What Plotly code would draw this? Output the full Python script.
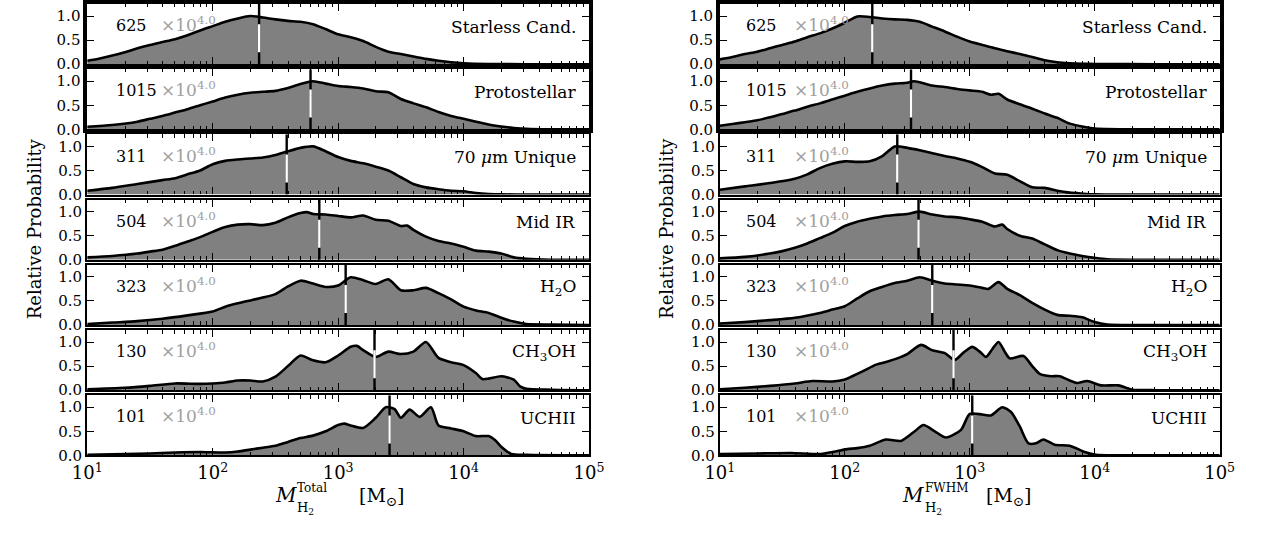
import numpy as np
import plotly.graph_objects as go
from plotly.subplots import make_subplots

# ---------------- data (log10 mass grid, relative probability) ----------------
labels = ["Starless Cand.", "Protostellar", "70 <i>μ</i>m Unique", "Mid IR",
          "H<sub>2</sub>O", "CH<sub>3</sub>OH", "UCHII"]
counts = [625, 1015, 311, 504, 323, 130, 101]

# Left column: M_H2 Total
tot_starless_logm = [1.0,1.1,1.2,1.3,1.4,1.5,1.6,1.7,1.8,1.9,2.0,2.1,2.2,2.3,2.4,2.5,2.6,2.7,2.8,2.9,3.0,3.1,3.2,3.3,3.4,3.5,3.6,3.7,3.8,3.9,4.0,4.2,4.5,5.0]
tot_starless_p    = [0.07,0.12,0.18,0.25,0.33,0.40,0.46,0.52,0.60,0.70,0.79,0.88,0.95,1.0,0.97,0.93,0.90,0.88,0.83,0.73,0.62,0.56,0.48,0.36,0.26,0.21,0.16,0.11,0.07,0.04,0.02,0.005,0,0]

tot_proto_logm = [1.0,1.2,1.4,1.5,1.6,1.7,1.8,1.9,2.0,2.1,2.2,2.3,2.4,2.5,2.6,2.7,2.8,2.9,3.0,3.1,3.2,3.3,3.4,3.5,3.6,3.7,3.8,3.9,4.0,4.1,4.2,4.3,4.4,4.5,4.7,5.0]
tot_proto_p    = [0.055,0.09,0.16,0.22,0.28,0.35,0.42,0.50,0.58,0.66,0.72,0.76,0.78,0.80,0.86,0.94,1.0,0.95,0.90,0.88,0.85,0.79,0.77,0.63,0.54,0.46,0.36,0.28,0.22,0.16,0.10,0.06,0.03,0.01,0,0]

tot_70um_logm = [1.0,1.2,1.4,1.6,1.7,1.8,1.9,2.0,2.1,2.2,2.3,2.4,2.5,2.6,2.7,2.8,2.9,3.0,3.1,3.2,3.3,3.4,3.5,3.6,3.7,3.8,3.9,4.0,4.1,4.2,4.3,4.5,5.0]
tot_70um_p    = [0.08,0.14,0.22,0.30,0.34,0.42,0.50,0.63,0.70,0.73,0.75,0.77,0.82,0.90,0.97,1.0,0.90,0.78,0.70,0.65,0.58,0.50,0.36,0.22,0.15,0.11,0.08,0.07,0.03,0.01,0.005,0,0]

tot_midir_logm = [1.0,1.2,1.4,1.5,1.6,1.7,1.8,1.9,2.0,2.1,2.2,2.3,2.4,2.5,2.6,2.7,2.75,2.8,2.9,3.0,3.1,3.2,3.3,3.4,3.5,3.55,3.6,3.7,3.8,3.9,4.0,4.1,4.2,4.3,4.4,4.5,4.7,5.0]
tot_midir_p    = [0.05,0.08,0.13,0.17,0.21,0.29,0.38,0.47,0.58,0.68,0.73,0.74,0.72,0.77,0.88,0.97,0.99,0.95,0.94,0.91,0.88,0.92,0.83,0.81,0.70,0.71,0.62,0.48,0.39,0.34,0.27,0.19,0.17,0.13,0.05,0.02,0,0]

tot_h2o_logm = [1.0,1.2,1.4,1.6,1.8,2.0,2.1,2.2,2.3,2.4,2.5,2.6,2.7,2.8,2.9,3.0,3.1,3.2,3.3,3.4,3.5,3.6,3.7,3.8,3.9,4.0,4.1,4.2,4.3,4.4,4.5,4.7,5.0]
tot_h2o_p    = [0.02,0.05,0.08,0.13,0.20,0.28,0.38,0.45,0.51,0.57,0.64,0.80,0.92,0.86,0.79,0.82,0.99,0.93,0.85,0.95,0.72,0.72,0.77,0.66,0.53,0.38,0.30,0.25,0.15,0.07,0.02,0.01,0]

tot_ch3oh_logm = [1.0,1.3,1.5,1.7,1.9,2.0,2.1,2.2,2.3,2.4,2.5,2.6,2.7,2.8,2.9,3.0,3.1,3.15,3.2,3.3,3.4,3.5,3.6,3.7,3.8,3.9,4.0,4.1,4.15,4.2,4.3,4.4,4.45,4.5,4.7,5.0]
tot_ch3oh_p    = [0.02,0.05,0.09,0.14,0.13,0.14,0.16,0.20,0.20,0.18,0.28,0.50,0.72,0.62,0.58,0.72,0.90,0.92,0.83,0.69,0.80,0.75,0.80,1.0,0.67,0.58,0.52,0.35,0.23,0.24,0.29,0.22,0.08,0.03,0.01,0]

tot_uchii_logm = [1.0,1.5,1.7,1.9,2.1,2.2,2.3,2.4,2.5,2.6,2.7,2.8,2.9,3.0,3.05,3.1,3.2,3.3,3.38,3.45,3.5,3.57,3.65,3.74,3.8,3.9,4.0,4.1,4.2,4.25,4.3,4.38,4.5,5.0]
tot_uchii_p    = [0.01,0.04,0.06,0.07,0.06,0.08,0.12,0.16,0.20,0.28,0.36,0.41,0.50,0.63,0.66,0.62,0.57,0.78,1.0,0.96,0.78,0.95,0.80,1.0,0.62,0.56,0.50,0.40,0.40,0.32,0.18,0.03,0.01,0]

# Right column: M_H2 FWHM
fwhm_starless_logm = [1.0,1.1,1.2,1.3,1.4,1.5,1.6,1.7,1.8,1.9,2.0,2.1,2.2,2.3,2.4,2.5,2.6,2.7,2.8,2.9,3.0,3.1,3.2,3.3,3.4,3.5,3.6,3.7,3.8,3.9,4.0,4.5,5.0]
fwhm_starless_p    = [0.10,0.15,0.21,0.26,0.33,0.40,0.47,0.56,0.64,0.74,0.86,0.99,0.98,0.95,0.93,0.92,0.88,0.78,0.68,0.57,0.47,0.40,0.33,0.27,0.21,0.15,0.08,0.04,0.02,0.01,0.005,0,0]

fwhm_proto_logm = [1.0,1.1,1.2,1.3,1.4,1.5,1.6,1.7,1.8,1.9,2.0,2.1,2.2,2.3,2.4,2.5,2.55,2.6,2.7,2.8,2.9,3.0,3.1,3.17,3.23,3.3,3.4,3.5,3.6,3.7,3.8,3.9,4.0,4.5,5.0]
fwhm_proto_p    = [0.075,0.11,0.15,0.19,0.25,0.32,0.39,0.47,0.54,0.62,0.70,0.78,0.85,0.91,0.95,0.97,1.0,0.98,0.91,0.88,0.84,0.81,0.78,0.72,0.74,0.62,0.52,0.43,0.33,0.24,0.12,0.06,0.02,0,0]

fwhm_70um_logm = [1.0,1.2,1.4,1.6,1.7,1.8,1.9,2.0,2.1,2.2,2.3,2.4,2.5,2.6,2.7,2.8,2.9,3.0,3.1,3.2,3.3,3.4,3.5,3.6,3.7,3.8,3.9,4.0,4.5,5.0]
fwhm_70um_p    = [0.10,0.17,0.24,0.33,0.42,0.55,0.64,0.69,0.68,0.69,0.80,1.0,0.97,0.92,0.86,0.80,0.75,0.68,0.57,0.44,0.41,0.28,0.15,0.14,0.08,0.04,0.02,0.005,0,0]

fwhm_midir_logm = [1.0,1.2,1.4,1.5,1.6,1.7,1.8,1.9,2.0,2.1,2.2,2.3,2.4,2.5,2.6,2.7,2.8,2.9,3.0,3.1,3.2,3.26,3.3,3.4,3.5,3.6,3.7,3.8,3.9,4.0,4.1,4.5,5.0]
fwhm_midir_p    = [0.03,0.06,0.13,0.18,0.25,0.34,0.45,0.56,0.70,0.79,0.85,0.90,0.93,0.95,1.0,0.94,0.90,0.88,0.84,0.79,0.69,0.73,0.64,0.50,0.44,0.32,0.20,0.13,0.08,0.04,0.01,0,0]

fwhm_h2o_logm = [1.0,1.2,1.4,1.6,1.8,1.9,2.0,2.1,2.2,2.3,2.4,2.5,2.6,2.7,2.8,2.9,3.0,3.1,3.15,3.23,3.3,3.4,3.5,3.6,3.7,3.8,3.9,4.0,4.1,4.5,5.0]
fwhm_h2o_p    = [0.03,0.06,0.10,0.15,0.25,0.32,0.39,0.55,0.70,0.79,0.87,0.92,0.99,0.92,0.86,0.84,0.82,0.77,0.75,0.89,0.75,0.62,0.46,0.32,0.21,0.19,0.16,0.06,0.01,0,0]

fwhm_ch3oh_logm = [1.0,1.2,1.4,1.6,1.74,1.9,2.0,2.06,2.15,2.25,2.35,2.42,2.5,2.61,2.7,2.8,2.88,2.95,3.02,3.08,3.13,3.18,3.23,3.28,3.32,3.43,3.5,3.56,3.65,3.72,3.8,3.86,3.94,4.05,4.19,4.25,4.3,4.5,5.0]
fwhm_ch3oh_p    = [0.02,0.05,0.09,0.14,0.19,0.18,0.22,0.29,0.40,0.53,0.60,0.66,0.75,0.94,0.83,0.77,0.63,0.78,0.90,0.80,0.69,0.85,1.0,0.80,0.66,0.71,0.50,0.34,0.29,0.29,0.20,0.15,0.19,0.10,0.10,0.05,0.01,0,0]

fwhm_uchii_logm = [1.0,1.3,1.57,1.81,1.9,2.02,2.1,2.2,2.33,2.45,2.55,2.63,2.72,2.81,2.93,3.0,3.1,3.17,3.26,3.33,3.4,3.47,3.53,3.59,3.68,3.8,3.92,4.01,4.2,5.0]
fwhm_uchii_p    = [0.03,0.04,0.05,0.03,0.07,0.13,0.15,0.20,0.33,0.30,0.48,0.63,0.50,0.37,0.53,0.86,0.85,0.83,1.0,0.90,0.60,0.25,0.25,0.33,0.22,0.20,0.07,0.01,0,0]

tot_medians = [2.37, 2.78, 2.59, 2.85, 3.06, 3.29, 3.41]
fwhm_medians = [2.22, 2.53, 2.42, 2.59, 2.70, 2.87, 3.02]

tot_series = [(tot_starless_logm, tot_starless_p), (tot_proto_logm, tot_proto_p),
              (tot_70um_logm, tot_70um_p), (tot_midir_logm, tot_midir_p),
              (tot_h2o_logm, tot_h2o_p), (tot_ch3oh_logm, tot_ch3oh_p),
              (tot_uchii_logm, tot_uchii_p)]
fwhm_series = [(fwhm_starless_logm, fwhm_starless_p), (fwhm_proto_logm, fwhm_proto_p),
               (fwhm_70um_logm, fwhm_70um_p), (fwhm_midir_logm, fwhm_midir_p),
               (fwhm_h2o_logm, fwhm_h2o_p), (fwhm_ch3oh_logm, fwhm_ch3oh_p),
               (fwhm_uchii_logm, fwhm_uchii_p)]

x_tickvals = [1e1, 1e2, 1e3, 1e4, 1e5]
x_ticktext = ["10<sup>1</sup>", "10<sup>2</sup>", "10<sup>3</sup>", "10<sup>4</sup>", "10<sup>5</sup>"]
y_tickvals = [0.0, 0.5, 1.0]
y_ticktext = ["0.0", "0.5", "1.0"]

# ---------------- layout geometry ----------------
W, H = 1262, 533
FONT = "DejaVu Serif"
COLS = [(74, 588), (722, 1234)]
TOP0, PITCH, PH = 1.0, 66.7, 61.6
YMAX = 1.25
minor_vals = [m * 10 ** e for e in range(1, 5) for m in range(2, 10)]

fig = make_subplots(rows=7, cols=2)

for c, (series, medians) in enumerate([(tot_series, tot_medians), (fwhm_series, fwhm_medians)]):
    x0, x1 = COLS[c]
    for r in range(7):
        top = TOP0 + r * PITCH
        bot = top + PH
        lw = 3.6 if r < 2 else 2.2
        logm, p = series[r]
        xs = [10 ** v for v in logm]
        fig.add_trace(go.Scatter(x=xs, y=p, mode="lines",
                                 line=dict(color="black", width=2.6, shape="spline", smoothing=0.7),
                                 fill="tozeroy", fillcolor="#808080",
                                 showlegend=False, hoverinfo="skip"),
                      row=r + 1, col=c + 1)
        med = 10 ** medians[r]
        fig.add_trace(go.Scatter(x=[med, med], y=[0, YMAX], mode="lines",
                                 line=dict(color="black", width=2.4),
                                 showlegend=False, hoverinfo="skip"),
                      row=r + 1, col=c + 1)
        fig.add_trace(go.Scatter(x=[med, med], y=[0, YMAX], mode="lines",
                                 line=dict(color="white", width=2.4, dash="0px,12px,28px,600px"),
                                 showlegend=False, hoverinfo="skip"),
                      row=r + 1, col=c + 1)

        fig.update_xaxes(row=r + 1, col=c + 1, type="log", range=[1, 5],
                         domain=[x0 / W, x1 / W],
                         showline=True, linewidth=lw, linecolor="black", mirror="ticks",
                         ticks="inside", ticklen=7, tickwidth=1.3, tickcolor="black",
                         tickmode="array", tickvals=x_tickvals, ticktext=x_ticktext,
                         showticklabels=(r == 6), tickfont=dict(family=FONT, size=18, color="black"),
                         showgrid=False, zeroline=False,
                         minor=dict(ticks="inside", ticklen=3.5, tickwidth=1, tickcolor="black",
                                    tickmode="array", tickvals=minor_vals, showgrid=False))
        fig.update_yaxes(row=r + 1, col=c + 1, range=[0, YMAX],
                         domain=[1 - bot / H, 1 - top / H],
                         showline=True, linewidth=lw, linecolor="black", mirror="ticks",
                         ticks="inside", ticklen=7, tickwidth=1.3, tickcolor="black",
                         tickmode="array", tickvals=y_tickvals, ticktext=y_ticktext,
                         tickfont=dict(family=FONT, size=15, color="black"),
                         showgrid=False, zeroline=False)

        n = r * 2 + c + 1
        xr = "x domain" if n == 1 else f"x{n} domain"
        yr = "y" if n == 1 else f"y{n}"
        cx = 0.0525 if c == 0 else 0.049
        fig.add_annotation(xref=xr, yref=yr, x=cx, y=0.56, xanchor="left", yanchor="bottom",
                           text=str(counts[r]), showarrow=False,
                           font=dict(family=FONT, size=16, color="black"))
        fig.add_annotation(xref=xr, yref=yr, x=0.144, y=0.56, xanchor="left", yanchor="bottom",
                           text="×10<sup>4.0</sup>", showarrow=False,
                           font=dict(family=FONT, size=17, color="#a0a0a0"))
        fig.add_annotation(xref=xr, yref=yr, x=0.978, y=0.78, xanchor="right", yanchor="middle",
                           text=labels[r], showarrow=False,
                           font=dict(family=FONT, size=17, color="black"))

# y titles
for xp in (20, 668):
    fig.add_annotation(xref="paper", yref="paper", x=xp / W, y=1 - 231 / H,
                       xanchor="center", yanchor="middle", textangle=-90,
                       text="Relative Probability", showarrow=False,
                       font=dict(family=FONT, size=18, color="black"))

# x titles (M with stacked super/subscripts)
for (mx, sx, bx, sup) in [(278, 287, 350, "Total"), (920, 930, 993, "FWHM")]:
    fig.add_annotation(xref="paper", yref="paper", x=mx / W, y=1 - 503 / H,
                       xanchor="center", yanchor="middle", text="<i>M</i>", showarrow=False,
                       font=dict(family=FONT, size=20, color="black"))
    fig.add_annotation(xref="paper", yref="paper", x=sx / W, y=1 - 496 / H,
                       xanchor="left", yanchor="middle", text=sup, showarrow=False,
                       font=dict(family=FONT, size=12, color="black"))
    fig.add_annotation(xref="paper", yref="paper", x=sx / W, y=1 - 517 / H,
                       xanchor="left", yanchor="middle", text="H<sub>2</sub>", showarrow=False,
                       font=dict(family=FONT, size=13, color="black"))
    fig.add_annotation(xref="paper", yref="paper", x=bx / W, y=1 - 505 / H,
                       xanchor="left", yanchor="middle", text="[M<sub>⊙</sub>]", showarrow=False,
                       font=dict(family=FONT, size=19, color="black"))

fig.update_layout(width=W, height=H, margin=dict(l=0, r=0, t=0, b=0),
                  paper_bgcolor="white", plot_bgcolor="white",
                  font=dict(family=FONT, color="black"), showlegend=False)

fig.write_html("out.html")
